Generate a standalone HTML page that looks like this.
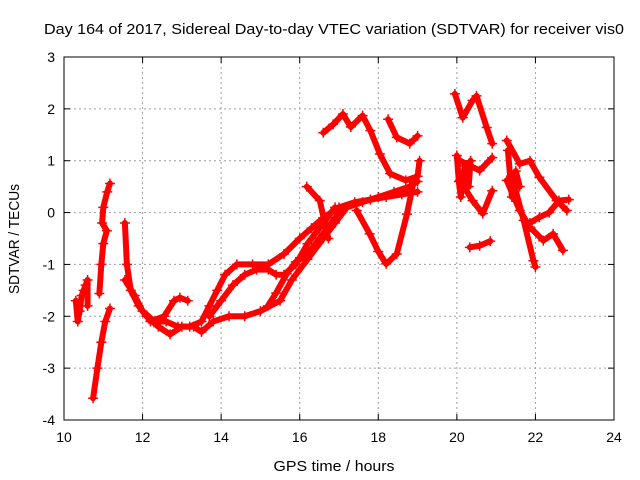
<!DOCTYPE html>
<html><head><meta charset="utf-8"><style>
body{margin:0;background:#fff}
svg{display:block;font-family:"Liberation Sans",sans-serif}
</style></head><body>
<svg id="c" width="640" height="480">
<text x="334" y="34" font-size="15" text-anchor="middle" textLength="580" lengthAdjust="spacingAndGlyphs">Day 164 of 2017, Sidereal Day-to-day VTEC variation (SDTVAR) for receiver vis0</text>
<text x="334" y="471" font-size="15" text-anchor="middle" textLength="121" lengthAdjust="spacingAndGlyphs">GPS time / hours</text>
<text transform="translate(19,239) rotate(-90)" font-size="15" text-anchor="middle" textLength="110" lengthAdjust="spacingAndGlyphs">SDTVAR / TECUs</text>
<g id="grid"></g><g id="marks"></g>
<rect x="64" y="57" width="550" height="363" fill="none" stroke="#000" stroke-width="1"/>
</svg>
<script>
const xTicks=[10,12,14,16,18,20,22,24];
const yTicks=[-4,-3,-2,-1,0,1,2,3];
const tA=[[10.3,-1.7],[10.35,-2.1],[10.4,-1.9],[10.45,-1.6],[10.5,-1.5],[10.55,-1.4],[10.6,-1.3],[10.6,-1.8]];
const tB=[[10.74,-3.58],[10.85,-3.0],[10.95,-2.5],[11.05,-2.1],[11.17,-1.85]];
const tB2=[[10.9,-1.56],[10.95,-1.0],[11.0,-0.6],[11.09,-0.35],[10.97,-0.2],[11.0,0.1],[11.1,0.4],[11.17,0.56]];
const tC=[[11.55,-0.2],[11.6,-1.0],[11.7,-1.5],[11.9,-1.8],[12.1,-2.0],[12.4,-2.2],[12.7,-2.35],[13.0,-2.2],[13.3,-2.2],[13.5,-2.3],[13.8,-2.1],[14.2,-2.0],[14.6,-2.0],[15.0,-1.9],[15.5,-1.7],[15.8,-1.3],[16.2,-0.9],[16.6,-0.5],[16.9,-0.2],[17.2,0.1],[17.6,0.2],[18.0,0.3],[18.4,0.4],[18.8,0.5],[19.0,0.6]];
const tD=[[11.55,-1.3],[11.8,-1.6],[12.0,-1.9],[12.3,-2.1],[12.6,-2.1],[12.9,-2.2],[13.2,-2.2],[13.5,-2.1],[13.7,-1.8],[13.9,-1.5],[14.1,-1.2],[14.4,-1.0],[14.8,-1.0],[15.2,-1.0],[15.6,-0.8],[16.0,-0.5],[16.3,-0.3],[16.6,-0.1],[17.0,0.1],[17.4,0.2],[17.8,0.25],[18.2,0.3],[18.6,0.35],[19.0,0.4]];
const tE=[[12.2,-2.1],[12.55,-2.0],[12.8,-1.7],[12.95,-1.64],[13.15,-1.7]];
const tF=[[13.7,-2.0],[14.0,-1.7],[14.3,-1.4],[14.6,-1.2],[14.9,-1.1],[15.2,-1.1],[15.4,-1.2],[15.6,-1.2],[15.9,-1.0],[16.2,-0.6],[16.5,-0.3],[16.7,-0.1],[16.9,0.1]];
const tG=[[15.19,-1.8],[15.4,-1.55],[15.67,-1.18],[15.9,-0.95],[16.2,-0.8],[16.5,-0.5],[16.7,-0.3],[16.9,-0.1],[17.1,0.05]];
const tH=[[16.6,1.54],[16.85,1.7],[17.1,1.9],[17.3,1.65],[17.6,1.87],[17.8,1.58],[18.04,1.13],[18.3,0.75],[18.7,0.62],[19.0,0.7],[19.05,1.0]];
const tI=[[18.25,1.8],[18.47,1.45],[18.8,1.33],[19.0,1.48]];
const tJ=[[17.45,0.04],[17.78,-0.41],[18.0,-0.75],[18.2,-0.99],[18.47,-0.8],[18.73,-0.03],[18.9,0.6]];
const tK=[[16.18,0.5],[16.51,0.23],[16.73,-0.5]];
const tL=[[19.95,2.29],[20.15,1.83],[20.4,2.16],[20.5,2.25],[20.76,1.64],[20.9,1.33]];
const tM=[[20.08,1.0],[20.58,0.81],[20.9,1.06]];
const tN=[[20.08,0.62],[20.4,0.23],[20.66,-0.02],[20.9,0.42]];
const tO=[[20.33,-0.67],[20.58,-0.64],[20.85,-0.55]];
const tP=[[21.27,1.39],[21.6,0.94],[21.86,1.0],[22.1,0.68],[22.54,0.23],[22.8,0.04]];
const tQ=[[21.27,0.62],[21.6,0.04],[21.86,-0.28],[22.2,-0.54],[22.45,-0.41],[22.7,-0.73]];
const tR=[[21.4,0.7],[21.7,-0.15],[21.95,-0.93],[22.0,-1.05]];
const tS=[[21.86,-0.2],[22.1,-0.09],[22.35,0.0],[22.6,0.23],[22.85,0.25]];
const tT=[[20.0,1.1],[20.05,0.6],[20.1,0.3],[20.2,0.9],[20.3,0.5],[20.35,1.0]];
const tU=[[21.3,1.2],[21.4,0.3],[21.5,0.8],[21.6,0.5]];
const tracks=[tA,tB,tB2,tC,tD,tE,tF,tG,tH,tI,tJ,tK,tL,tM,tN,tO,tP,tQ,tR,tS,tT,tU];
const X=h=>64+(h-10)*550/14, Y=v=>420-(v+4)*363/7;
const NS="http://www.w3.org/2000/svg";
const svg=document.getElementById('c'),grid=document.getElementById('grid'),marks=document.getElementById('marks');
function mk(tag,attrs,parent){const e=document.createElementNS(NS,tag);for(const k in attrs)e.setAttribute(k,attrs[k]);parent.appendChild(e);return e;}
xTicks.forEach(t=>{const x=X(t);
 if(t>10&&t<24){const g=mk('line',{x1:x,x2:x,y1:57,y2:420,stroke:'#a0a0a0','stroke-dasharray':'2,3'},grid);}
 const l=mk('text',{x:x,y:442,'font-size':14,'text-anchor':'middle'},svg);l.textContent=t;
 
 
 mk('line',{x1:x,x2:x,y1:420,y2:414,stroke:'#000'},grid);mk('line',{x1:x,x2:x,y1:57,y2:63,stroke:'#000'},grid);});
yTicks.forEach(t=>{const y=Y(t);
 if(t>-4&&t<3){const g=mk('line',{x1:64,x2:614,y1:y,y2:y,stroke:'#a0a0a0','stroke-dasharray':'2,3'},grid);}
 const l=mk('text',{x:55,y:y+5,'font-size':14,'text-anchor':'end'},svg);l.textContent=t;
 
 
 mk('line',{x1:64,x2:70,y1:y,y2:y,stroke:'#000'},grid);mk('line',{x1:608,x2:614,y1:y,y2:y,stroke:'#000'},grid);});
tracks.forEach(tr=>{
 const p=mk('polyline',{points:tr.map(d=>X(d[0])+','+Y(d[1])).join(' '),fill:'none',stroke:'#f00','stroke-width':6,'stroke-linejoin':'round','stroke-linecap':'round'},marks);
 
 
 tr.forEach(d=>{const x=X(d[0]),y=Y(d[1]);
  const m=mk('path',{d:`M${x-5},${y}h10M${x},${y-5}v10`,stroke:'#f00','stroke-width':1.5},marks);
  
  });
});
</script>
</body></html>
